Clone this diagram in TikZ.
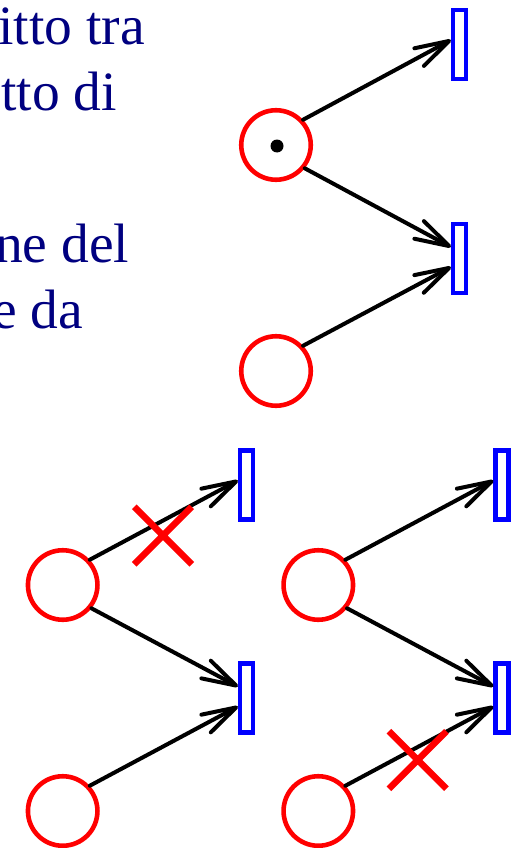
\documentclass[tikz,border=0pt]{standalone}
\usepackage{fontspec}
\setmainfont{Liberation Serif}
\newfontfamily\timesfam{Liberation Serif}
\usetikzlibrary{arrows.meta,shapes.misc}
\definecolor{navytext}{RGB}{0,0,128}
\begin{document}
\begin{tikzpicture}[x=1pt,y=-1pt,
  place/.style={circle,draw=red,line width=4.6pt,minimum size=69.5pt,inner sep=0pt},
  trans/.style={rectangle,draw=blue,line width=4.3pt,minimum width=13pt,minimum height=69pt,inner sep=0pt},
  arc/.style={line width=4pt,line cap=round,-{Straight Barb[length=34pt,width=20pt,round]}},
  crossmark/.style={cross out,draw=red,line width=6.5pt,minimum size=51pt,inner sep=0pt},
  txt/.style={text=navytext,font=\timesfam\fontsize{55.5}{66.6}\selectfont,inner sep=0pt,anchor=base east},
  token/.style={circle,fill=black,minimum size=13pt,inner sep=0pt}]
\useasboundingbox (0,0) rectangle (512,848);
\clip (0,0) rectangle (512,848);
% text
\node[txt] (l1) at (145,45) {itto tra};
\node[txt] (l2) at (117,111) {tto di};
\node[txt] (l3) at (129.5,262) {ne del};
\node[txt] (l4) at (83.5,328) {e da};
% top group
\node[place] (p1) at (276,145) {};
\node[token] (k1) at (277,146) {};
\node[place] (p2) at (276,371) {};
\node[trans] (t1) at (459.5,44.5) {};
\node[trans] (t2) at (459.5,258.5) {};
\draw[arc] (p1.43) -- ([yshift=4.5pt]t1.west);
\draw[arc] (p1.-39) -- ([yshift=11.5pt]t2.west);
\draw[arc] (p2.43) -- ([yshift=-8.5pt]t2.west);
% bottom left group
\node[place] (pa) at (62.7,585) {};
\node[place] (pb) at (62.7,811) {};
\node[trans] (ta) at (246.5,485) {};
\node[trans] (tb) at (246.5,698) {};
\draw[arc] (pa.43) -- ([yshift=4.5pt]ta.west);
\draw[arc] (pa.-39) -- ([yshift=11.5pt]tb.west);
\draw[arc] (pb.43) -- ([yshift=-8.5pt]tb.west);
% bottom right group
\node[place] (pc) at (318.3,585) {};
\node[place] (pd) at (318.3,811) {};
\node[trans] (tc) at (502,485) {};
\node[trans] (td) at (502,698) {};
\draw[arc] (pc.43) -- ([yshift=4.5pt]tc.west);
\draw[arc] (pc.-39) -- ([yshift=11.5pt]td.west);
\draw[arc] (pd.43) -- ([yshift=-8.5pt]td.west);
% crosses
\node[crossmark] (xa) at (163,535.5) {};
\node[crossmark] (xd) at (417.7,760) {};
\end{tikzpicture}
\end{document}
